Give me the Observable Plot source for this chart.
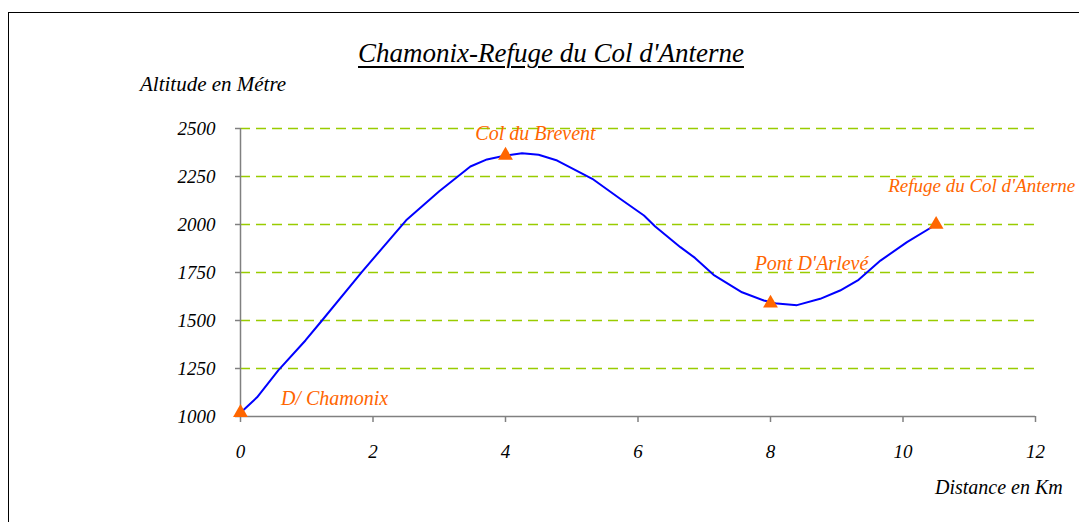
<!DOCTYPE html>
<html>
<head>
<meta charset="utf-8">
<script src="https://cdn.jsdelivr.net/npm/d3@7"></script>
<script src="https://cdn.jsdelivr.net/npm/@observablehq/plot@0.6"></script>
<style>
  html, body { margin: 0; padding: 0; background: #fff; }
  #wrap { position: relative; width: 1079px; height: 522px; overflow: hidden; background: #fff;
          font-family: "Liberation Serif", "DejaVu Serif", serif; font-style: italic; }
  #frame { position: absolute; left: 8px; top: 12px; width: 1200px; height: 700px; border: 1px solid #000; box-sizing: border-box; }
  #chart { position: absolute; left: 0; top: 0; }
  .lbl { position: absolute; white-space: nowrap; color: #000; line-height: 1; }
  #title { left: 0; width: 1102px; text-align: center; top: 40px; font-size: 27px; text-decoration: underline; text-underline-offset: 4px; text-decoration-thickness: 2px; }
  #ylab { left: 140px; top: 74px; font-size: 21px; }
  #xlab { left: 935px; top: 477px; font-size: 20px; }
</style>
</head>
<body>
<div id="wrap">
  <div id="frame"></div>
  <div id="chart"></div>
  <div class="lbl" id="title">Chamonix-Refuge du Col d'Anterne</div>
  <div class="lbl" id="ylab">Altitude en Métre</div>
  <div class="lbl" id="xlab">Distance en Km</div>
</div>
<script>
// Profile of the route (distance in km, altitude in m)
const distanceKm = [0, 0.25, 0.57, 0.98, 1.23, 1.83, 2.5, 3.0, 3.47, 3.72, 4.0, 4.25, 4.5, 4.78, 5.31, 5.73, 6.09, 6.26, 6.64, 6.86, 7.14, 7.57, 7.9, 8.1, 8.4, 8.75, 9.05, 9.33, 9.66, 10.06, 10.5];
const altitudeM = [1020, 1100, 1240, 1396, 1500, 1752, 2022, 2173, 2302, 2339, 2359, 2371, 2363, 2333, 2238, 2134, 2047, 1990, 1882, 1826, 1738, 1647, 1604, 1588, 1580, 1613, 1656, 1712, 1812, 1908, 2000];

// Named stops
const stopNames = ["D/ Chamonix", "Col du Brevent", "Pont D'Arlevé", "Refuge du Col d'Anterne"];
const stopKm = [0, 4, 8, 10.5];
const stopAlt = [1020, 2360, 1590, 2000];

// Tick values
const yTicks = [1000, 1250, 1500, 1750, 2000, 2250, 2500];
const xTicks = [0, 2, 4, 6, 8, 10, 12];

const profile = distanceKm.map((d, i) => ({km: d, alt: altitudeM[i]}));
const stops = stopNames.map((n, i) => ({name: n, km: stopKm[i], alt: stopAlt[i]}));

const orange = "#FF6600";
const labelStyle = [
  {dx: 94, dy: -14, anchor: "middle", size: 20},
  {dx: 30, dy: -22, anchor: "middle", size: 20},
  {dx: 41, dy: -40, anchor: "middle", size: 20},
  {dx: -48, dy: -39, anchor: "start", size: 19}
];

const labelMarks = stops.map((s, i) => Plot.text([s], {
  x: "km", y: "alt", text: "name",
  dx: labelStyle[i].dx, dy: labelStyle[i].dy, textAnchor: labelStyle[i].anchor,
  fill: orange, fontSize: labelStyle[i].size, fontStyle: "italic"
}));

const chart = Plot.plot({
  width: 1079,
  height: 522,
  marginLeft: 240,
  marginRight: 44,
  marginTop: 128,
  marginBottom: 106,
  style: {background: "transparent", fontFamily: "'Liberation Serif', 'DejaVu Serif', serif", fontStyle: "italic", overflow: "visible"},
  x: {domain: [0, 12]},
  y: {domain: [1000, 2500]},
  marks: [
    Plot.ruleY(yTicks.filter(d => d > 1000), {x1: 0, x2: 12, stroke: "#99CC00", strokeWidth: 1.3, strokeDasharray: "10,6"}),
    Plot.ruleX([0], {y1: 1000, y2: 2500, stroke: "#808080", strokeWidth: 1.5}),
    Plot.ruleY([1000], {x1: 0, x2: 12, stroke: "#808080", strokeWidth: 1.5}),
    Plot.axisY({ticks: yTicks, tickSize: 5, tickPadding: 20, tickFormat: d => String(d), stroke: "#808080", strokeWidth: 1.5, fill: "#000", fontSize: 19, label: null}),
    Plot.axisX({ticks: xTicks, tickSize: 6, tickPadding: 22, tickFormat: d => String(d), stroke: "#808080", strokeWidth: 1.5, fill: "#000", fontSize: 19, label: null}),
    Plot.line(profile, {x: "km", y: "alt", stroke: "#0000FF", strokeWidth: 2}),
    Plot.dot(stops, {x: "km", y: "alt", symbol: "triangle", r: 5.5, fill: orange, stroke: "none"}),
    ...labelMarks
  ]
});
document.getElementById("chart").appendChild(chart);
</script>
</body>
</html>
